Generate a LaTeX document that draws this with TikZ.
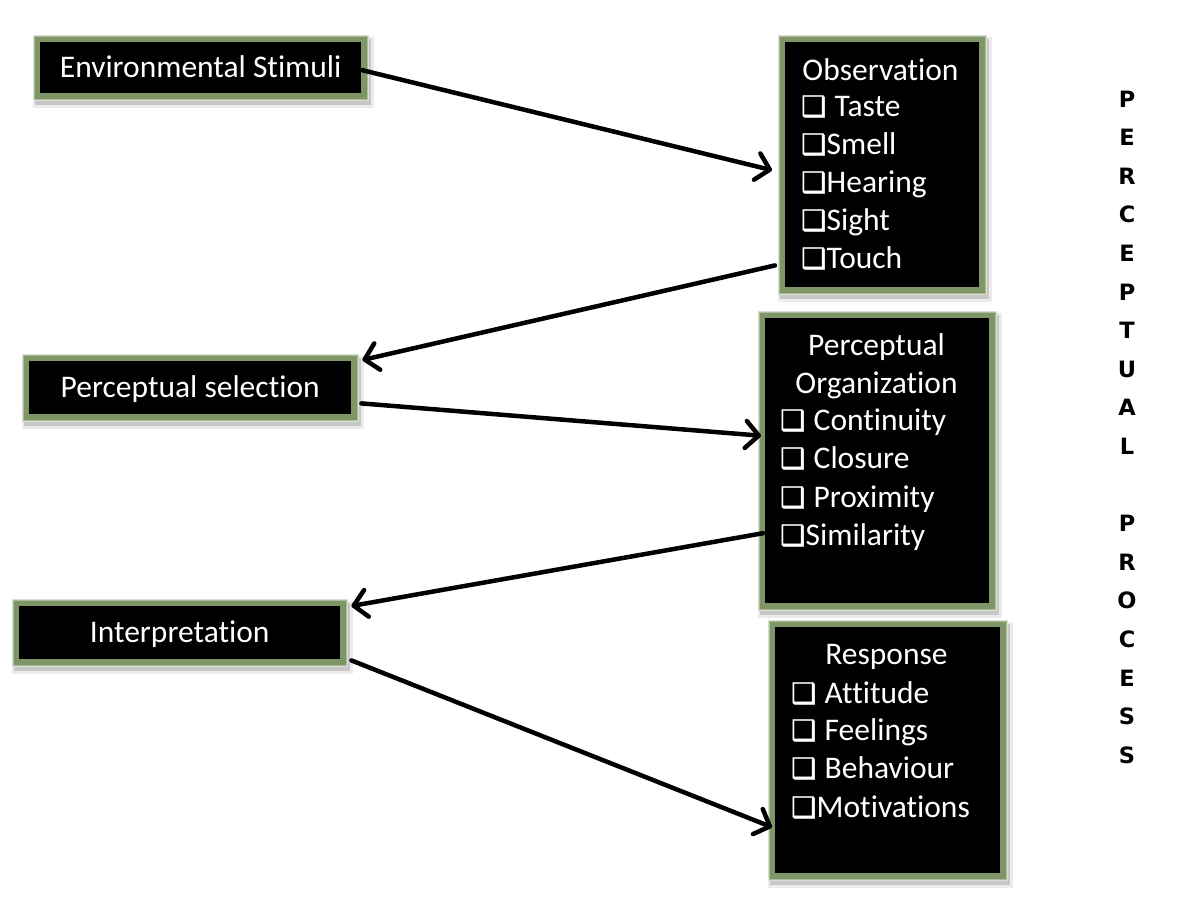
\documentclass[tikz,border=0pt]{standalone}
\usepackage{fontspec}
\setmainfont{Carlito}[Ligatures=NoCommon]
\newfontfamily\dingfont{DejaVu Sans}[FakeBold=1.2]
\newfontfamily\vertfont{DejaVu Sans Bold}
\usetikzlibrary{arrows.meta}
\definecolor{glowc}{RGB}{126,150,102}
\newcommand\cbx{\makebox[25.5pt][l]{\dingfont\fontsize{28}{28}\selectfont ❑}}
\newcommand\cbs{\cbx\hspace{8pt}}
\tikzset{
  boxs/.style={anchor=north west, fill=black, inner sep=0pt, text=white,
    font=\fontsize{31.5}{38}\selectfont, text height=20.3pt, text depth=0pt,
    preaction={draw=black!8, line width=20pt, rounded corners=10pt,
      transform canvas={shift={(3pt,-5pt)}}},
    preaction={draw=black!22, line width=15pt, rounded corners=8pt,
      transform canvas={shift={(2pt,-4pt)}}},
    preaction={draw=glowc!30, line width=15pt, rounded corners=7pt},
    preaction={draw=glowc!65, line width=13pt, rounded corners=5pt},
    preaction={draw=glowc, line width=11pt, rounded corners=3pt}},
  lt/.style={text=white, inner sep=0pt, font=\fontsize{31.5}{38}\selectfont},
  arr/.style={line width=4.5pt, line cap=round, draw=black,
    -{Straight Barb[length=13pt,width=27pt,line cap=round,line join=round]}},
  vl/.style={inner sep=0pt, anchor=base, font=\vertfont\fontsize{22.5}{22.5}\selectfont}
}
\begin{document}
\begin{tikzpicture}[x=1pt,y=-1pt]
\useasboundingbox[fill=white] (0,0) rectangle (1180,910);

% boxes
\node[boxs, minimum width=321pt, minimum height=51pt] (env) at (40,42) {Environmental Stimuli};
\node[boxs, minimum width=194pt, minimum height=245pt] (obs) at (785,42) {};
\node[boxs, minimum width=322pt, minimum height=53pt] (sel) at (29,361) {Perceptual selection};
\node[boxs, minimum width=224pt, minimum height=285pt] (org) at (765,318) {};
\node[boxs, minimum width=321pt, minimum height=53pt] (int) at (19,606) {Interpretation};
\node[boxs, minimum width=225pt, minimum height=246pt] (resp) at (775,627) {};

% observation text
\node[lt, anchor=base] (o0) at (880.5,80) {Observation};
\node[lt, anchor=base west] (o1) at (801,116) {\cbs Taste};
\node[lt, anchor=base west] (o2) at (801,154) {\cbx Smell};
\node[lt, anchor=base west] (o3) at (801,192) {\cbx Hearing};
\node[lt, anchor=base west] (o4) at (801,230) {\cbx Sight};
\node[lt, anchor=base west] (o5) at (801,268) {\cbx Touch};

% perceptual organization text
\node[lt, anchor=base] (g0) at (876.5,355) {Perceptual};
\node[lt, anchor=base] (g1) at (876.5,393) {Organization};
\node[lt, anchor=base west] (g2) at (780,430) {\cbs Continuity};
\node[lt, anchor=base west] (g3) at (780,468) {\cbs Closure};
\node[lt, anchor=base west] (g4) at (780,507) {\cbs Proximity};
\node[lt, anchor=base west] (g5) at (780,545) {\cbx Similarity};

% response text
\node[lt, anchor=base] (r0) at (886.5,664) {Response};
\node[lt, anchor=base west] (r1) at (791,703) {\cbs Attitude};
\node[lt, anchor=base west] (r2) at (791,740) {\cbs Feelings};
\node[lt, anchor=base west] (r3) at (791,778) {\cbs Behaviour};
\node[lt, anchor=base west] (r4) at (791,817) {\cbx Motivations};

% arrows
\draw[arr] ([shift={(1,2.5)}]env.east) -- ([shift={(-13,5.5)}]obs.west);
\draw[arr] ([shift={(-10,-22)}]obs.south west) -- ([shift={(11,-1)}]sel.north east);
\draw[arr] ([shift={(10,-11)}]sel.south east) -- ([shift={(-4,-25)}]org.west);
\draw[arr] ([shift={(-2,72.5)}]org.west) -- ([shift={(11,0)}]int.north east);
\draw[arr] ([shift={(11,1)}]int.south east) -- ([shift={(-3,77)}]resp.west);

% vertical title
\foreach \i/\c in {0/P,1/E,2/R,3/C,4/E,5/P,6/T,7/U,8/A,9/L,11/P,12/R,13/O,14/C,15/E,16/S,17/S}
  \node[vl] (v\i) at (1127,{107+38.6*\i}) {\c};
\end{tikzpicture}
\end{document}
